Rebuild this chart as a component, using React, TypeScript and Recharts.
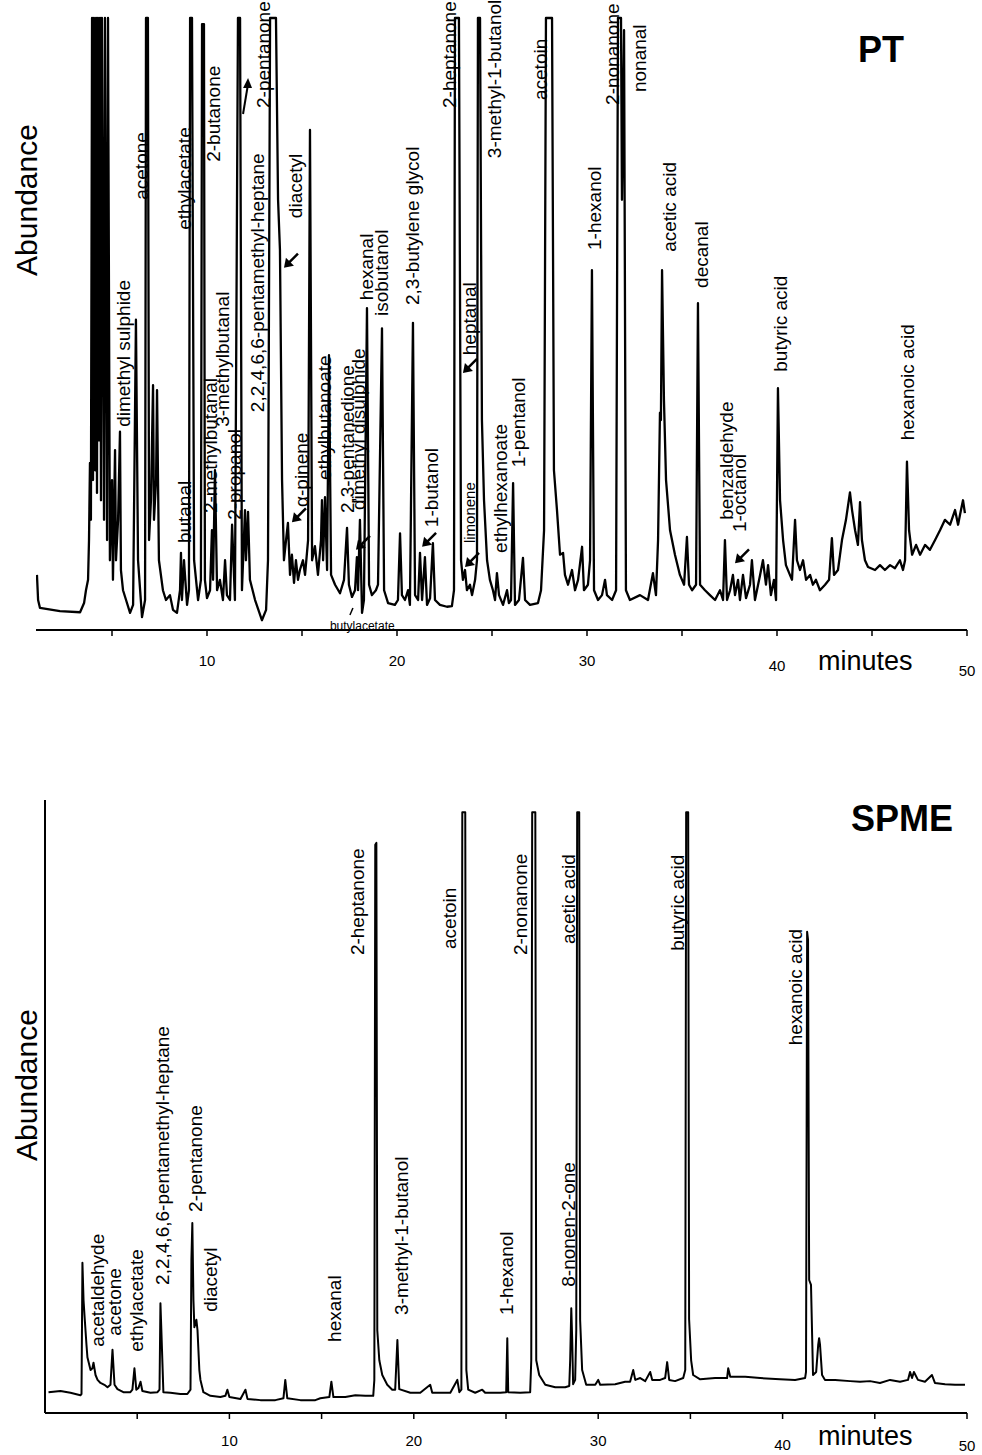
import React from 'react'
import { ComposedChart, Line, Scatter, XAxis, YAxis } from 'recharts'

type Pt = [number, number]

const FONT = '"Liberation Sans", Arial, Helvetica, sans-serif'

/* ---------- PT chromatogram (minutes, abundance 0-100, 100 = off scale) ---------- */
const ptTrace1: Pt[] = [
  [1.05, 9.0], [1.11, 4.9], [1.21, 3.6], [2.26, 3.1], [3.32, 2.9], [3.53, 4.4], [3.63, 6.5],
  [3.74, 8.2], [3.79, 14.7], [3.84, 27.3], [3.89, 18.0], [3.95, 100], [4.0, 24.5], [4.05, 100],
  [4.11, 26.1], [4.16, 100], [4.21, 22.4], [4.26, 100], [4.32, 31.0], [4.37, 100], [4.42, 21.2],
  [4.47, 100], [4.58, 18.0], [4.63, 100], [4.74, 14.7], [4.79, 100], [4.89, 11.4], [5.0, 24.5],
  [5.05, 8.2], [5.16, 29.4], [5.21, 11.4], [5.32, 18.0], [5.42, 32.4], [5.47, 9.8], [5.58, 6.5],
  [5.74, 4.9], [5.95, 2.8], [6.11, 4.1], [6.26, 50.7], [6.37, 11.4], [6.58, 2.1], [6.74, 4.9],
  [6.79, 100], [6.89, 100], [6.95, 14.7], [7.05, 21.2], [7.16, 40.0], [7.21, 18.0], [7.32, 24.5],
  [7.37, 39.2], [7.47, 11.4], [7.68, 6.5], [7.84, 4.9], [8.05, 5.7], [8.21, 3.3], [8.42, 2.8],
  [8.58, 6.5], [8.63, 12.6], [8.68, 4.9], [8.79, 11.4], [8.84, 9.0], [8.95, 4.1], [9.05, 6.5],
  [9.11, 100], [9.21, 100], [9.32, 11.4], [9.53, 4.9], [9.68, 8.2], [9.74, 99], [9.84, 99],
  [9.89, 8.2], [10.0, 5.2],
]
const ptTrace2: Pt[] = [
  [10.16, 6.5], [10.26, 16.3], [10.32, 8.2], [10.42, 26.1], [10.53, 6.5], [10.68, 8.2],
  [10.84, 4.9], [10.95, 11.4], [11.05, 5.7], [11.21, 4.9], [11.32, 17.2], [11.47, 4.9],
  [11.63, 100], [11.74, 100], [11.84, 6.5], [12.0, 19.6], [12.05, 11.4], [12.16, 19.3],
  [12.26, 8.2], [12.53, 4.9], [12.89, 1.6], [13.11, 3.3], [13.21, 11.4], [13.32, 100],
  [13.63, 100], [13.74, 70.3], [13.84, 62.1], [13.95, 24.5], [14.05, 11.4], [14.16, 14.7],
  [14.26, 17.5], [14.37, 9.0], [14.47, 12.3], [14.58, 7.7], [14.68, 11.4], [14.79, 8.2],
  [14.89, 9.8], [15.05, 11.4], [15.16, 9.0], [15.32, 14.7], [15.42, 81.7], [15.53, 11.4],
  [15.68, 13.7], [15.84, 9.0], [16.0, 14.7], [16.05, 21.2], [16.11, 11.4], [16.21, 21.7],
  [16.32, 9.8], [16.42, 44.9], [16.53, 9.0], [16.74, 7.4], [17.0, 6.0], [17.21, 8.2],
  [17.37, 16.7], [17.47, 7.4], [17.63, 5.4], [17.79, 6.5], [17.89, 11.9], [17.95, 6.5],
  [18.05, 18.0], [18.16, 2.8], [18.26, 4.9], [18.42, 52.6], [18.53, 7.4], [18.68, 5.7],
  [18.89, 6.5], [19.0, 7.4], [19.21, 49.3], [19.32, 6.5], [19.53, 4.4], [19.89, 4.1],
]
const ptTrace3: Pt[] = [
  [20.05, 4.9], [20.16, 15.8], [20.26, 5.7], [20.42, 4.9], [20.58, 6.5], [20.68, 4.1],
  [20.84, 50.2], [20.95, 5.7], [21.11, 4.9], [21.21, 12.6], [21.32, 4.9], [21.47, 11.9],
  [21.58, 4.1], [21.74, 5.2], [21.89, 14.2], [22.0, 4.9], [22.26, 4.1], [22.63, 3.8],
  [22.89, 3.9], [23.0, 6.5], [23.05, 100], [23.26, 100], [23.37, 11.4], [23.47, 8.2],
  [23.58, 9.8], [23.68, 6.5], [23.84, 7.4], [23.95, 5.7], [24.11, 8.2], [24.21, 11.4],
  [24.26, 100], [24.37, 100], [24.47, 34.3], [24.58, 21.2], [24.74, 11.4], [24.89, 8.2],
  [25.05, 6.5], [25.16, 4.9], [25.26, 9.3], [25.37, 5.7], [25.58, 4.1], [25.79, 6.5],
  [25.89, 4.4], [26.0, 4.9], [26.11, 24.0], [26.21, 4.1], [26.42, 4.9], [26.63, 11.8],
  [26.74, 4.9], [27.0, 4.1], [27.42, 4.4], [27.58, 6.5], [27.74, 16.3], [27.84, 100],
  [28.16, 100], [28.26, 26.1], [28.42, 19.6], [28.58, 12.3], [28.74, 12.6], [28.84, 9.0],
  [29.0, 7.4], [29.21, 9.8], [29.37, 6.5], [29.53, 8.2], [29.74, 13.6], [29.84, 6.5],
  [30.05, 7.4], [30.16, 11.4], [30.26, 58.8], [30.37, 6.5], [30.58, 4.9], [30.79, 5.7],
  [30.95, 8.2], [31.05, 5.7], [31.32, 4.9], [31.53, 6.5], [31.63, 100], [31.79, 100],
  [31.84, 70.3], [31.95, 98.0], [32.05, 6.5], [32.26, 4.9], [32.79, 5.7], [33.21, 4.9],
  [33.47, 9.3], [33.63, 5.7], [33.74, 14.7], [33.84, 35.5], [33.89, 34.3], [33.95, 58.8],
  [34.05, 37.6], [34.16, 24.5], [34.37, 16.3], [34.63, 12.3], [34.89, 9.0],
]
const ptTrace4: Pt[] = [
  [35.11, 7.4], [35.26, 15.2], [35.37, 7.4], [35.53, 6.5], [35.74, 7.4], [35.84, 53.4],
  [35.95, 7.4], [36.21, 6.5], [36.47, 5.7], [36.74, 4.9], [37.0, 6.5], [37.16, 4.9],
  [37.26, 14.7], [37.37, 4.9], [37.53, 6.5], [37.68, 9.0], [37.79, 5.7], [37.95, 8.2],
  [38.05, 4.9], [38.21, 9.0], [38.37, 5.2], [38.58, 7.4], [38.68, 11.4], [38.84, 4.9],
  [39.11, 9.0], [39.26, 11.4], [39.42, 7.4], [39.53, 10.6], [39.68, 5.7], [39.84, 8.2],
  [39.95, 4.9], [40.05, 39.5], [40.16, 21.2], [40.32, 14.7], [40.47, 10.6], [40.68, 9.0],
  [40.79, 8.2], [40.95, 18.0], [41.05, 11.4], [41.21, 9.8], [41.37, 11.4], [41.53, 8.2],
  [41.74, 9.0], [41.89, 7.4], [42.05, 8.2], [42.26, 6.5], [42.53, 7.4], [42.74, 8.2],
  [42.89, 15.0], [43.0, 9.0], [43.21, 9.8], [43.42, 14.7], [43.63, 18.0], [43.84, 22.5],
  [43.95, 19.6], [44.11, 16.3], [44.26, 13.9], [44.37, 20.9], [44.47, 14.7], [44.63, 11.4],
  [44.79, 10.3], [45.16, 9.8], [45.42, 10.6], [45.68, 9.8], [45.95, 10.6], [46.21, 10.1],
  [46.47, 11.4], [46.63, 9.8], [46.74, 11.4], [46.84, 27.5], [46.95, 16.3], [47.11, 12.3],
  [47.32, 13.9], [47.53, 12.3], [47.79, 13.9], [48.05, 13.1], [48.32, 14.7], [48.58, 16.3],
  [48.84, 18.0], [49.11, 17.2], [49.37, 19.6], [49.53, 17.2], [49.63, 18.8], [49.79, 21.2],
  [49.89, 19.1],
]

const ptLabels = [
  { name: 'dimethyl sulphide', t: 5.63, a: 33.2 },
  { name: 'acetone', t: 6.53, a: 70.3 },
  { name: 'butanal', t: 8.79, a: 14.2 },
  { name: 'ethylacetate', t: 8.79, a: 65.4 },
  { name: '2-methylbutanal', t: 10.16, a: 19.1 },
  { name: '2-butanone', t: 10.32, a: 76.5 },
  { name: '3-methylbutanal', t: 10.84, a: 33.2 },
  { name: '2-propanol', t: 11.47, a: 18.0 },
  { name: '2,2,4,6,6-pentamethyl-heptane', t: 12.68, a: 35.6 },
  { name: '2-pentanone', t: 12.95, a: 85.3 },
  { name: 'diacetyl', t: 14.68, a: 67.3 },
  { name: 'α-pinene', t: 15.0, a: 20.1 },
  { name: 'ethylbutanoate', t: 16.21, a: 24.5 },
  { name: '2,3-pentanedione', t: 17.37, a: 19.1 },
  { name: 'dimethyl disulphide', t: 18.0, a: 19.6 },
  { name: 'hexanal', t: 18.37, a: 53.9 },
  { name: 'isobutanol', t: 19.21, a: 51.3 },
  { name: '2,3-butylene glycol', t: 20.84, a: 53.1 },
  { name: '1-butanol', t: 21.84, a: 16.8 },
  { name: '2-heptanone', t: 22.74, a: 85.3 },
  { name: 'heptanal', t: 23.84, a: 44.9 },
  { name: 'limonene', t: 23.84, a: 14.2, size: 15 },
  { name: '3-methyl-1-butanol', t: 25.11, a: 77.1 },
  { name: 'ethylhexanoate', t: 25.47, a: 12.6 },
  { name: '1-pentanol', t: 26.42, a: 26.6 },
  { name: 'acetoin', t: 27.53, a: 86.6 },
  { name: '1-hexanol', t: 30.42, a: 62.1 },
  { name: '2-nonanone', t: 31.32, a: 85.8 },
  { name: 'nonanal', t: 32.74, a: 87.9 },
  { name: 'acetic acid', t: 34.32, a: 61.8 },
  { name: 'decanal', t: 36.05, a: 55.9 },
  { name: 'benzaldehyde', t: 37.32, a: 18.0 },
  { name: '1-octanol', t: 38.05, a: 16.0 },
  { name: 'butyric acid', t: 40.21, a: 42.2 },
  { name: 'hexanoic acid', t: 46.89, a: 31.0 },
]
const ptFlatLabels = [{ name: 'butylacetate', t: 16.47, a: 0.65 }]

const ptArrows = [
  { t: 12.16, a: 90.2, dir: 'n' },
  { t: 14.05, a: 59.2, dir: 'sw' },
  { t: 14.47, a: 17.6, dir: 'sw' },
  { t: 17.84, a: 13.1, dir: 'sw' },
  { t: 21.32, a: 13.6, dir: 'sw' },
  { t: 23.47, a: 42.0, dir: 'sw' },
  { t: 23.58, a: 10.3, dir: 'sw' },
  { t: 37.79, a: 10.9, dir: 'sw' },
]

/* ---------- SPME chromatogram ---------- */
const spmeTrace1: Pt[] = [
  [0.19, 3.4], [0.84, 3.6], [1.38, 3.3], [1.92, 2.9], [1.98, 3.1], [2.03, 24.5], [2.09, 18.4],
  [2.14, 16.0], [2.25, 11.1], [2.3, 9.1], [2.47, 7.0], [2.57, 7.3], [2.63, 8.2], [2.74, 6.2],
  [2.85, 5.4], [3.01, 4.9], [3.22, 4.6], [3.39, 4.2], [3.55, 4.6], [3.66, 10.3], [3.77, 4.6],
  [3.93, 3.9], [4.25, 3.4], [4.63, 3.4], [4.74, 3.8], [4.85, 7.3], [4.95, 3.8], [5.07, 4.1],
  [5.18, 5.1], [5.28, 3.6], [5.72, 3.3], [6.1, 3.4], [6.21, 3.8], [6.26, 17.9], [6.31, 13.5],
  [6.42, 3.4], [6.8, 3.3], [7.34, 3.1], [7.72, 3.1], [7.89, 3.8], [7.94, 25.0], [7.99, 31.0],
  [8.05, 18.4], [8.1, 14.0], [8.21, 15.2], [8.27, 13.5], [8.37, 7.0], [8.43, 5.4], [8.59, 3.4],
  [8.97, 2.8], [9.51, 2.6], [9.78, 2.8], [9.89, 3.8], [10.0, 2.6], [10.6, 2.3], [10.87, 3.8],
  [10.98, 2.3], [11.68, 2.1], [12.49, 2.1], [12.93, 2.4], [13.03, 5.4], [13.14, 2.4],
  [13.85, 2.1], [14.66, 2.1], [14.93, 2.4],
]
const spmeTrace2: Pt[] = [
  [15.42, 2.6], [15.53, 5.1], [15.64, 2.6], [16.29, 2.6], [16.83, 2.9], [17.37, 2.8],
  [17.8, 2.8], [17.86, 5.4], [17.91, 92.7], [17.97, 93.0], [18.02, 13.5], [18.13, 8.6],
  [18.29, 6.2], [18.56, 4.6], [18.83, 3.8], [18.99, 3.8], [19.11, 11.9], [19.21, 3.9],
  [19.81, 3.3], [20.35, 3.3], [20.89, 4.6], [21.0, 3.3], [21.98, 3.3], [22.36, 5.4],
  [22.47, 3.4], [22.58, 3.8], [22.63, 98], [22.79, 98], [22.85, 7.0], [22.95, 3.8],
  [23.33, 3.3], [23.71, 3.8], [23.87, 3.3], [24.69, 3.3], [25.01, 3.4], [25.07, 12.2],
  [25.12, 3.4], [25.77, 3.3], [26.31, 3.4], [26.37, 8.6], [26.42, 98], [26.59, 98],
  [26.64, 8.6], [26.8, 6.2], [27.13, 4.6], [27.67, 4.2], [28.21, 4.2], [28.43, 4.4],
  [28.48, 8.6], [28.54, 17.1], [28.59, 11.9], [28.64, 4.7], [28.75, 5.4], [28.81, 13.5],
  [28.86, 98], [28.97, 98], [29.02, 15.2], [29.13, 7.0], [29.35, 4.6], [29.84, 4.6],
]
const spmeTrace3: Pt[] = [
  [30.0, 5.4], [30.11, 4.6], [30.92, 4.7], [31.46, 5.1], [31.73, 5.1], [31.9, 7.0],
  [32.01, 5.4], [32.28, 5.7], [32.55, 5.2], [32.82, 6.7], [32.93, 5.4], [33.36, 5.4],
  [33.63, 5.7], [33.74, 8.3], [33.85, 5.4], [34.17, 5.2], [34.61, 5.7], [34.72, 7.0],
  [34.77, 98], [34.88, 98], [34.93, 15.3], [35.04, 8.6], [35.15, 6.2], [35.53, 5.5],
  [36.34, 5.7], [36.99, 5.7], [37.05, 7.3], [37.16, 5.9], [37.97, 5.9], [38.78, 5.7],
  [39.86, 5.5], [40.68, 5.4], [41.22, 5.7], [41.27, 6.7], [41.33, 78.5], [41.38, 77.2],
  [41.44, 21.7], [41.54, 20.9], [41.65, 6.2], [41.82, 6.7], [41.93, 11.1], [41.98, 12.2],
  [42.03, 11.1], [42.14, 6.2], [42.3, 5.4], [42.85, 5.4], [43.66, 5.2], [44.2, 5.1],
  [44.74, 5.2], [45.28, 4.9], [45.83, 5.4], [46.37, 5.1], [46.8, 5.4], [46.91, 6.7],
  [47.02, 5.7], [47.12, 6.7], [47.34, 5.4], [47.72, 5.1], [48.1, 6.2], [48.26, 4.9],
  [48.81, 4.7], [49.35, 4.6], [49.89, 4.6],
]

const spmeLabels = [
  { name: 'acetaldehyde', t: 2.85, a: 10.8 },
  { name: 'acetone', t: 3.77, a: 12.6 },
  { name: 'ethylacetate', t: 4.96, a: 10.0 },
  { name: '2,2,4,6,6-pentamethyl-heptane', t: 6.37, a: 20.9 },
  { name: '2-pentanone', t: 8.16, a: 32.8 },
  { name: 'diacetyl', t: 8.97, a: 16.5 },
  { name: 'hexanal', t: 15.69, a: 11.6 },
  { name: '2-heptanone', t: 16.94, a: 74.7 },
  { name: '3-methyl-1-butanol', t: 19.32, a: 16.0 },
  { name: 'acetoin', t: 21.92, a: 75.7 },
  { name: '1-hexanol', t: 25.01, a: 16.0 },
  { name: '2-nonanone', t: 25.77, a: 74.7 },
  { name: '8-nonen-2-one', t: 28.37, a: 20.6 },
  { name: 'acetic acid', t: 28.37, a: 76.5 },
  { name: 'butyric acid', t: 34.28, a: 75.4 },
  { name: 'hexanoic acid', t: 40.68, a: 60.0 },
]

const minuteTicks = [5, 10, 15, 20, 25, 30, 35, 40, 45, 50]

const toRows = (parts: Pt[][]) => parts.flat().map(([t, a]) => ({ t, a }))
const ptData = toRows([ptTrace1, ptTrace2, ptTrace3, ptTrace4])
const spmeData = toRows([spmeTrace1, spmeTrace2, spmeTrace3])

function MinuteTick({ x, y, payload, base = 22, drops = {} }: any) {
  const v = payload.value
  if (v % 10 !== 0) return <g />
  return (
    <text x={x} y={y + base + (drops[v] ?? 0)} textAnchor="middle" dominantBaseline="central" fontSize={15} fill="#000">
      {v}
    </text>
  )
}

function PeakLabel({ cx, cy, payload }: any) {
  if (cx == null || cy == null) return <g />
  return (
    <text
      x={cx}
      y={cy}
      transform={`rotate(-90 ${cx} ${cy})`}
      fontSize={payload.size ?? 19}
      dominantBaseline="central"
      fill="#000"
    >
      {payload.name}
    </text>
  )
}

function FlatLabel({ cx, cy, payload }: any) {
  if (cx == null || cy == null) return <g />
  return (
    <g>
      <line x1={cx + 20} y1={cy - 11} x2={cx + 23} y2={cy - 18} stroke="#000" strokeWidth={1.5} />
      <text x={cx} y={cy} fontSize={12} dominantBaseline="central" fill="#000">
        {payload.name}
      </text>
    </g>
  )
}

function Arrow({ cx, cy, payload }: any) {
  if (cx == null || cy == null) return <g />
  if (payload.dir === 'n') {
    return (
      <g>
        <path d={`M${cx - 5},${cy + 36} Q${cx - 2},${cy + 18} ${cx},${cy + 6}`} stroke="#000" strokeWidth={2} fill="none" />
        <polygon points={`${cx},${cy} ${cx - 5},${cy + 10} ${cx + 4},${cy + 10}`} fill="#000" />
      </g>
    )
  }
  return (
    <g>
      <line x1={cx + 3} y1={cy - 3} x2={cx + 14} y2={cy - 14} stroke="#000" strokeWidth={2.5} />
      <polygon points={`${cx},${cy} ${cx + 10},${cy - 2} ${cx + 2},${cy - 10}`} fill="#000" />
    </g>
  )
}

const axisLine = { stroke: '#000', strokeWidth: 2 }
const tickLine = { stroke: '#000', strokeWidth: 1.5 }

export default function App() {
  return (
    <div style={{ position: 'absolute', left: 0, top: 0, width: 982, height: 1455, background: '#fff', fontFamily: FONT }}>
      {/* PT */}
      <div style={{ position: 'absolute', left: 0, top: 0 }}>
        <ComposedChart width={982} height={700} margin={{ top: 18, right: 15, bottom: 30, left: 36 }}>
          <XAxis
            type="number"
            dataKey="t"
            domain={[1, 50]}
            ticks={minuteTicks}
            tick={<MinuteTick base={22} drops={{ 40: 5, 50: 10 }} />}
            tickSize={6}
            height={40}
            axisLine={axisLine}
            tickLine={tickLine}
            allowDataOverflow
          />
          <YAxis type="number" domain={[0, 100]} hide />
          <Line data={ptData} dataKey="a" type="linear" stroke="#000" strokeWidth={2.3} strokeLinejoin="round" dot={false} isAnimationActive={false} />
          <Scatter data={ptLabels} dataKey="a" shape={<PeakLabel />} isAnimationActive={false} />
          <Scatter data={ptFlatLabels} dataKey="a" shape={<FlatLabel />} isAnimationActive={false} />
          <Scatter data={ptArrows} dataKey="a" shape={<Arrow />} isAnimationActive={false} />
        </ComposedChart>
      </div>

      {/* SPME */}
      <div style={{ position: 'absolute', left: 0, top: 760 }}>
        <ComposedChart width={982} height={695} margin={{ top: 40, right: 15, bottom: 12, left: 44 }}>
          <XAxis
            type="number"
            dataKey="t"
            domain={[0, 50]}
            ticks={minuteTicks}
            tick={<MinuteTick base={19} drops={{ 40: 4, 50: 5 }} />}
            tickSize={6}
            height={30}
            axisLine={axisLine}
            tickLine={tickLine}
            allowDataOverflow
          />
          <YAxis type="number" domain={[0, 100]} width={1} tick={false} tickLine={false} axisLine={axisLine} />
          <Line data={spmeData} dataKey="a" type="linear" stroke="#000" strokeWidth={2} strokeLinejoin="round" dot={false} isAnimationActive={false} />
          <Scatter data={spmeLabels} dataKey="a" shape={<PeakLabel />} isAnimationActive={false} />
        </ComposedChart>
      </div>

      {/* titles */}
      <svg width={982} height={1455} style={{ position: 'absolute', left: 0, top: 0, pointerEvents: 'none' }}>
        <text transform="translate(37,200) rotate(-90)" textAnchor="middle" fontSize={30} fill="#000">Abundance</text>
        <text transform="translate(37,1085) rotate(-90)" textAnchor="middle" fontSize={30} fill="#000">Abundance</text>
        <text x={818} y={670} fontSize={27} fill="#000">minutes</text>
        <text x={818} y={1445} fontSize={27} fill="#000">minutes</text>
        <text x={858} y={62} fontSize={36} fontWeight="bold" fill="#000">PT</text>
        <text x={851} y={831} fontSize={36} fontWeight="bold" fill="#000">SPME</text>
      </svg>
    </div>
  )
}
